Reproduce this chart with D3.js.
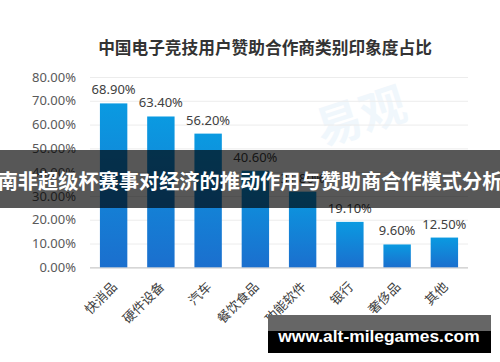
<!DOCTYPE html>
<html>
<head>
<meta charset="utf-8">
<script src="https://cdn.jsdelivr.net/npm/d3@7"></script>
<style>
    body { margin: 0; background: #fff; }
    svg { display: block; }
</style>
</head>
<body>
<div id="chart"></div>
<script>
// data
var categories = [ '快消品', '硬件设备', '汽车', '餐饮食品', '功能软件', '银行', '奢侈品', '其他' ];
var values = [ 68.9, 63.4, 56.2, 40.6, 31.8, 19.1, 9.6, 12.5 ];
var y_ticks = [ 0, 10, 20, 30, 40, 50, 60, 70, 80 ];
var title_text = '中国电子竞技用户赞助合作商类别印象度占比';
var banner_text = '南非超级杯赛事对经济的推动作用与赞助商合作模式分析';
var site_text = 'www.alt-milegames.com';

var data = categories.map(function( c, i ){
    return { key: c, num: values[i] };
});

// Create SVG Element
var chart_width     =   500;
var chart_height    =   362;
var plot_left       =   90;
var plot_right      =   468;
var plot_top        =   77;
var plot_bottom     =   267.3;
var cjk_font        =   '"Noto Sans CJK SC", "Noto Sans", sans-serif';
var num_font        =   '"Noto Sans", "Open Sans", sans-serif';

var svg = d3.select( '#chart' )
    .append( 'svg' )
    .attr( 'width', chart_width )
    .attr( 'height', chart_height );

// bar gradient
var grad = svg.append( 'defs' )
    .append( 'linearGradient' )
    .attr( 'id', 'bar_grad' )
    .attr( 'x1', 0 ).attr( 'y1', 0 )
    .attr( 'x2', 0 ).attr( 'y2', 1 );
grad.append( 'stop' ).attr( 'offset', '0%' ).attr( 'stop-color', '#0a9ae1' );
grad.append( 'stop' ).attr( 'offset', '100%' ).attr( 'stop-color', '#1b6fce' );

// create scales
var x_scale = d3.scaleBand()
    .domain( categories )
    .range( [ plot_left, plot_right ] )
    .paddingInner( 0.42 )
    .paddingOuter( 0.21 );

var y_scale = d3.scaleLinear()
    .domain( [ 0, 80 ] )
    .range( [ plot_bottom, plot_top ] );

// title
svg.append( 'text' )
    .attr( 'x', 265 )
    .attr( 'y', 54 )
    .attr( 'text-anchor', 'middle' )
    .attr( 'font-family', cjk_font )
    .attr( 'font-weight', 'bold' )
    .attr( 'font-size', 16.7 )
    .attr( 'fill', '#333' )
    .text( title_text );

// background watermark
svg.append( 'text' )
    .attr( 'transform', 'translate(366,132) rotate(-18)' )
    .attr( 'text-anchor', 'middle' )
    .attr( 'font-family', cjk_font )
    .attr( 'font-weight', 'bold' )
    .attr( 'font-size', 46 )
    .attr( 'fill', '#1a7fd0' )
    .attr( 'opacity', 0.06 )
    .text( '易观' );

// gridlines
var y_axis = d3.axisLeft( y_scale )
    .tickValues( y_ticks )
    .tickSize( -( plot_right - plot_left ) )
    .tickPadding( 14 )
    .tickFormat( function( d ){
        return d.toFixed( 2 ) + '%';
    });

var y_g = svg.append( 'g' )
    .attr( 'transform', 'translate(' + plot_left + ',0)' )
    .call( y_axis );
y_g.select( '.domain' ).remove();
y_g.selectAll( 'line' )
    .attr( 'stroke', function( d ){
        return d === 0 ? '#c9c9c9' : '#ececec';
    })
    .attr( 'stroke-width', function( d ){
        return d === 0 ? 1.3 : 1;
    });
y_g.selectAll( 'text' )
    .attr( 'font-family', num_font )
    .attr( 'font-size', 13 )
    .attr( 'fill', '#595959' );

// Bind Data and create bars
svg.selectAll( 'rect.bar' )
    .data( data )
    .enter()
    .append( 'rect' )
    .attr( 'class', 'bar' )
    .attr( 'x', function( d ){
        return x_scale( d.key );
    })
    .attr( 'y', function( d ){
        return y_scale( d.num );
    })
    .attr( 'width', x_scale.bandwidth() )
    .attr( 'height', function( d ){
        return plot_bottom - y_scale( d.num );
    })
    .attr( 'fill', 'url(#bar_grad)' );

// Create Labels
svg.selectAll( 'text.val' )
    .data( data )
    .enter()
    .append( 'text' )
    .attr( 'class', 'val' )
    .text( function( d ){
        return d.num.toFixed( 2 ) + '%';
    })
    .attr( 'x', function( d ){
        return x_scale( d.key ) + x_scale.bandwidth() / 2;
    })
    .attr( 'y', function( d ){
        return y_scale( d.num ) - 9;
    })
    .attr( 'font-family', num_font )
    .attr( 'font-size', 13 )
    .attr( 'fill', '#404040' )
    .attr( 'text-anchor', 'middle' );

// category labels
svg.selectAll( 'text.cat' )
    .data( data )
    .enter()
    .append( 'text' )
    .attr( 'class', 'cat' )
    .attr( 'transform', function( d ){
        var cx = x_scale( d.key ) + x_scale.bandwidth() / 2 + 1;
        return 'translate(' + cx + ',' + ( plot_bottom + 17 ) + ') rotate(-45)';
    })
    .attr( 'dy', '0.35em' )
    .attr( 'text-anchor', 'end' )
    .attr( 'font-family', cjk_font )
    .attr( 'font-size', 13 )
    .attr( 'fill', '#404040' )
    .text( function( d ){
        return d.key;
    });

// overlay banner
svg.append( 'rect' )
    .attr( 'x', 0 )
    .attr( 'y', 150 )
    .attr( 'width', chart_width )
    .attr( 'height', 58 )
    .attr( 'fill', '#000' )
    .attr( 'opacity', 0.66 );

svg.append( 'text' )
    .attr( 'x', chart_width / 2 )
    .attr( 'y', 182 )
    .attr( 'dy', '0.35em' )
    .attr( 'text-anchor', 'middle' )
    .attr( 'font-family', cjk_font )
    .attr( 'font-weight', 'bold' )
    .attr( 'font-size', 20.2 )
    .attr( 'fill', '#fff' )
    .text( banner_text );

// site tag
svg.append( 'rect' )
    .attr( 'x', 268 )
    .attr( 'y', 315 )
    .attr( 'width', 223 )
    .attr( 'height', 16 )
    .attr( 'fill', '#666' );
svg.append( 'rect' )
    .attr( 'x', 268 )
    .attr( 'y', 331 )
    .attr( 'width', 223 )
    .attr( 'height', 22 )
    .attr( 'fill', '#000' );
svg.append( 'text' )
    .attr( 'x', 379 )
    .attr( 'y', 342 )
    .attr( 'text-anchor', 'middle' )
    .attr( 'font-family', '"Liberation Sans", Arial, sans-serif' )
    .attr( 'font-weight', 'bold' )
    .attr( 'font-size', 17.4 )
    .attr( 'fill', '#fff' )
    .text( site_text );
</script>
</body>
</html>
